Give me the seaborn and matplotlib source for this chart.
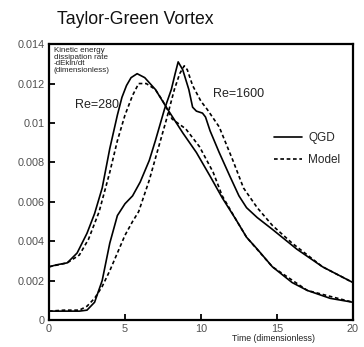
import matplotlib
matplotlib.use("Agg")
import matplotlib.pyplot as plt
from matplotlib.lines import Line2D
import seaborn as sns
import pandas as pd

# Re=280, QGD (solid)
t280_qgd = [0, 0.5, 1.2, 1.85, 2.5, 3.0, 3.5, 4.0, 4.5, 4.8, 5.1, 5.4, 5.8, 6.3, 7.0, 7.8,
            8.8, 9.7, 10.6, 11.4, 12.3, 13.0, 13.7, 14.7, 16.0, 17.0, 18.5, 20.0]
v280_qgd = [0.0027, 0.0028, 0.0029, 0.0034, 0.0044, 0.0054, 0.0067, 0.0087, 0.0104, 0.0113,
            0.0119, 0.0123, 0.0125, 0.0123, 0.0117, 0.0107, 0.0095, 0.0085, 0.0073, 0.0062,
            0.0051, 0.0042, 0.0036, 0.0027, 0.0019, 0.0015, 0.0011, 0.0009]

# Re=280, Model (dashed)
t280_mod = [0, 1.2, 2.0, 2.6, 3.3, 4.0, 4.5, 5.0, 5.5, 5.9, 6.4, 7.0, 7.5, 8.1, 9.0, 9.9,
            10.8, 11.4, 12.3, 13.0, 14.7, 17.0, 20.0]
v280_mod = [0.0027, 0.0029, 0.0033, 0.0041, 0.0055, 0.0075, 0.0091, 0.0104, 0.0114, 0.0120,
            0.0120, 0.0117, 0.0111, 0.0102, 0.0097, 0.0088, 0.0075, 0.0063, 0.0051, 0.0042,
            0.0027, 0.0015, 0.0009]

# Re=1600, QGD (solid)
t1600_qgd = [0, 1.0, 2.0, 2.5, 3.0, 3.5, 4.0, 4.5, 5.0, 5.5, 6.0, 6.6, 7.0, 7.6, 8.05, 8.3,
             8.5, 8.8, 9.0, 9.2, 9.45, 9.7, 10.1, 10.3, 10.6, 11.2, 11.9, 12.5, 13.0, 13.7,
             14.7, 16.3, 18.0, 20.0]
v1600_qgd = [0.00045, 0.00045, 0.00045, 0.0005, 0.0009, 0.0020, 0.0039, 0.0053, 0.0059, 0.0063,
             0.0070, 0.0081, 0.0091, 0.0107, 0.0117, 0.0125, 0.0131, 0.0127, 0.0122, 0.0117,
             0.0108, 0.0106, 0.0105, 0.0103, 0.0096, 0.0085, 0.0073, 0.0063, 0.0057, 0.0052,
             0.0046, 0.0036, 0.0027, 0.0019]

# Re=1600, Model (dashed)
t1600_mod = [0, 1.0, 2.0, 2.5, 3.0, 3.5, 4.0, 4.5, 5.0, 5.5, 5.9, 6.6, 7.0, 7.7, 8.25, 8.6,
             8.9, 9.1, 9.45, 10.0, 10.4, 11.2, 12.1, 12.8, 13.7, 14.7, 16.0, 17.0, 18.0, 20.0]
v1600_mod = [0.00045, 0.0005, 0.0005, 0.0007, 0.0011, 0.0017, 0.0025, 0.0034, 0.0043, 0.0050,
             0.0055, 0.0071, 0.0082, 0.0101, 0.0117, 0.0125, 0.0129, 0.0127, 0.0119, 0.0111,
             0.0107, 0.0098, 0.0081, 0.0067, 0.0057, 0.0048, 0.0039, 0.0033, 0.0027, 0.0019]

xticks = [0, 5, 10, 15, 20]
xticklabels = ["0", "5", "10", "15", "20"]
yticks = [0, 0.002, 0.004, 0.006, 0.008, 0.01, 0.012, 0.014]
yticklabels = ["0", "0.002", "0.004", "0.006", "0.008", "0.01", "0.012", "0.014"]

sns.set_style("white")
plt.rcParams["font.family"] = ["Liberation Sans", "DejaVu Sans"]

fig = plt.figure(figsize=(3.64, 3.47), dpi=100)
ax = fig.add_axes([0.1346, 0.0778, 0.835, 0.795])

series = [
    (t280_qgd, v280_qgd, "-"),
    (t280_mod, v280_mod, (0, (2.2, 1.6))),
    (t1600_qgd, v1600_qgd, "-"),
    (t1600_mod, v1600_mod, (0, (2.2, 1.6))),
]
for t, v, ls in series:
    df = pd.DataFrame({"t": t, "v": v})
    sns.lineplot(data=df, x="t", y="v", ax=ax, color="black", lw=1.2,
                 linestyle=ls, estimator=None, sort=False)

ax.set_xlim(0, 20)
ax.set_ylim(0, 0.014)
ax.set_xticks(xticks)
ax.set_xticklabels(xticklabels)
ax.set_yticks(yticks)
ax.set_yticklabels(yticklabels)
ax.set_xlabel("")
ax.set_ylabel("")
ax.tick_params(direction="in", length=4, width=1.3, colors="black",
               labelcolor="#505050", labelsize=7.8, top=False, right=False,
               bottom=True, left=True, pad=3)
for s in ax.spines.values():
    s.set_visible(True)
    s.set_linewidth(1.6)
    s.set_color("black")

fig.text(0.157, 0.945, "Taylor-Green Vortex", fontsize=12.7, ha="left", va="center",
         color="#111111")
ax.text(0.015, 0.99, "Kinetic energy\ndissipation rate\n-dEkin/dt\n(dimensionless)",
        transform=ax.transAxes, fontsize=5.8, ha="left", va="top", linespacing=0.95,
        color="#222222")
fig.text(0.752, 0.012, "Time (dimensionless)", fontsize=6.3, ha="center", va="bottom",
         color="#222222")
ax.text(0.085, 0.78, "Re=280", transform=ax.transAxes, fontsize=9, ha="left",
        va="center", color="#222222")
ax.text(0.538, 0.818, "Re=1600", transform=ax.transAxes, fontsize=9, ha="left",
        va="center", color="#222222")

handles = [Line2D([], [], color="black", lw=1.2, linestyle="-"),
           Line2D([], [], color="black", lw=1.2, linestyle=(0, (2.2, 1.6)))]
ax.legend(handles, ["QGD", "Model"], loc="center left", bbox_to_anchor=(0.705, 0.62),
          frameon=False, fontsize=8.5, handlelength=2.4, handletextpad=0.5,
          labelspacing=0.85)

fig.savefig("out.png", dpi=100)
